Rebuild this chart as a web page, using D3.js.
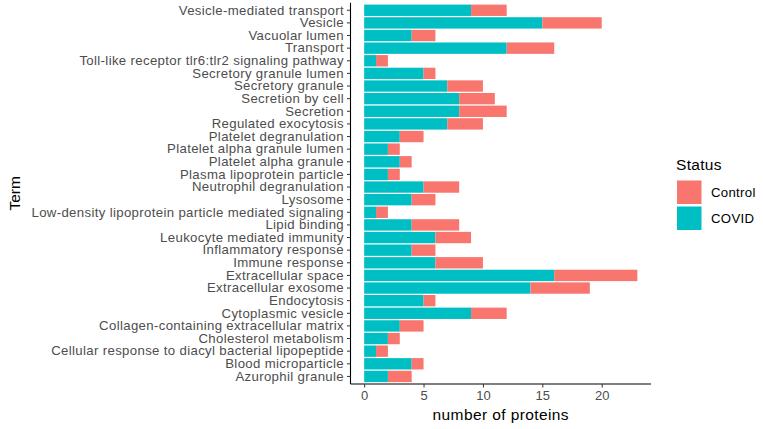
<!DOCTYPE html>
<html><head><meta charset="utf-8">
<script src="https://cdn.jsdelivr.net/npm/d3@7"></script>
<style>body{margin:0;background:#fff;} text{font-family:"Liberation Sans",Arial,sans-serif;}</style>
</head><body><svg id="c" width="763" height="429"></svg>
<script>
const terms = ["Vesicle-mediated transport","Vesicle","Vacuolar lumen","Transport","Toll-like receptor tlr6:tlr2 signaling pathway","Secretory granule lumen","Secretory granule","Secretion by cell","Secretion","Regulated exocytosis","Platelet degranulation","Platelet alpha granule lumen","Platelet alpha granule","Plasma lipoprotein particle","Neutrophil degranulation","Lysosome","Low-density lipoprotein particle mediated signaling","Lipid binding","Leukocyte mediated immunity","Inflammatory response","Immune response","Extracellular space","Extracellular exosome","Endocytosis","Cytoplasmic vesicle","Collagen-containing extracellular matrix","Cholesterol metabolism","Cellular response to diacyl bacterial lipopeptide","Blood microparticle","Azurophil granule"];
const covid   = [9,15,4,12,1,5,7,8,8,7,3,2,3,2,5,4,1,4,6,4,6,16,14,5,9,3,2,1,4,2];
const control = [3,5,2,4,1,1,3,3,4,3,2,1,1,1,3,2,1,4,3,2,4,7,5,1,3,2,1,1,1,2];
const statuses = ["Control","COVID"];
const xTicks = [0,5,10,15,20];

const colors = {Control:"#F8766D", COVID:"#00BFC4"};
const svg = d3.select("#c");
const L = 350.5, R = 651, T = 2.7, B = 384;

const maxTotal = d3.max(terms, (t,i)=>covid[i]+control[i]);
const pad = maxTotal*0.05;
const x = d3.scaleLinear().domain([-pad, maxTotal+pad]).range([L, R]);
const y = d3.scaleBand().domain(terms).range([T, B]).paddingInner(0.1).paddingOuter(0.15);

const rows = terms.map((t,i)=>({term:t, COVID:covid[i], Control:control[i]}));
const stack = d3.stack().keys(["COVID","Control"]);
const series = stack(rows);

svg.append("g").selectAll("g").data(series).join("g")
  .attr("fill", d=>colors[d.key])
  .selectAll("rect").data(d=>d).join("rect")
  .attr("x", d=>x(d[0]))
  .attr("width", d=>x(d[1])-x(d[0]))
  .attr("y", d=>y(d.data.term))
  .attr("height", y.bandwidth());

// axes
const yAxis = svg.append("g").attr("transform",`translate(${L},0)`)
  .call(d3.axisLeft(y).tickSize(3.5).tickPadding(3));
yAxis.select(".domain").attr("stroke","#000").attr("stroke-width",1.1).attr("d",`M0,${T}V${B}`);
yAxis.selectAll(".tick line").attr("stroke","#333");
yAxis.selectAll(".tick text").attr("fill","#4D4D4D").style("font-size","13.2px").style("letter-spacing","0.35px");

const xAxis = svg.append("g").attr("transform",`translate(0,${B})`)
  .call(d3.axisBottom(x).tickValues(xTicks).tickSize(3.5).tickPadding(3));
xAxis.select(".domain").attr("stroke","#000").attr("stroke-width",1.1).attr("d",`M${L},0H${R}`);
xAxis.selectAll(".tick line").attr("stroke","#333");
xAxis.selectAll(".tick text").attr("fill","#4D4D4D").style("font-size","13px");

svg.append("text").attr("x",(L+R)/2).attr("y",420).attr("text-anchor","middle")
  .style("font-size","15.5px").style("letter-spacing","0.4px").attr("fill","#000").text("number of proteins");
svg.append("text").attr("transform",`translate(20,${(T+B)/2}) rotate(-90)`).attr("text-anchor","middle")
  .style("font-size","15.5px").attr("fill","#000").text("Term");

// legend
const lg = svg.append("g");
lg.append("text").attr("x",676).attr("y",170).style("font-size","15.5px").style("letter-spacing","0.3px").text("Status");
statuses.forEach((s,i)=>{
  lg.append("rect").attr("x",677).attr("y",180.5+i*26).attr("width",24.5).attr("height",23.5).attr("fill",colors[s]);
  lg.append("text").attr("x",711).attr("y",192.5+i*26).attr("dy","0.35em").style("font-size","13.2px").style("letter-spacing","0.3px").text(s);
});
</script></body></html>
